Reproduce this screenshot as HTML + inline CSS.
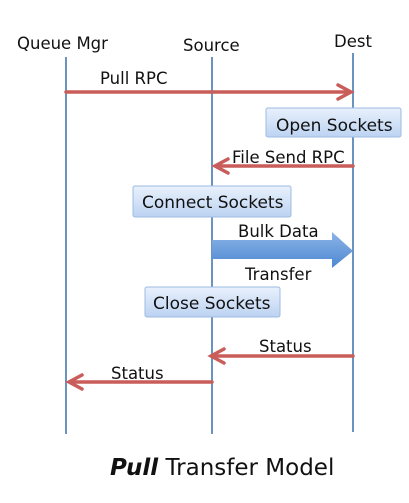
<!DOCTYPE html>
<html><head><style>
body{margin:0;background:#fff;}
svg text{font-family:"DejaVu Sans","Liberation Sans",sans-serif;fill:#111;}
</style></head><body>
<svg width="409" height="498" viewBox="0 0 409 498" xmlns="http://www.w3.org/2000/svg">
<defs>
<linearGradient id="bx" x1="0" y1="0" x2="0" y2="1"><stop offset="0" stop-color="#e9f1fc"/><stop offset="1" stop-color="#bcd3f2"/></linearGradient>
<linearGradient id="ba" x1="0" y1="0" x2="0" y2="1"><stop offset="0" stop-color="#8cb4e6"/><stop offset="1" stop-color="#4d88d2"/></linearGradient>
</defs>
<text x="17" y="49" font-size="16.5">Queue Mgr</text>
<text x="183" y="51" font-size="16.5">Source</text>
<text x="334" y="47" font-size="16.5">Dest</text>
<g stroke="#6b93bf" stroke-width="2">
<line x1="66" y1="57" x2="66" y2="434"/>
<line x1="212" y1="57" x2="212" y2="434"/>
<line x1="353" y1="53" x2="353" y2="432"/>
</g>
<g stroke="#c95d5a" stroke-width="3.5" fill="none" stroke-linecap="round">
<line x1="66" y1="92" x2="350" y2="92"/><polyline points="338,85 351,92 338,99"/>
<line x1="353" y1="166" x2="216" y2="166"/><polyline points="228,159 215,166 228,173"/>
<line x1="353" y1="356" x2="212" y2="356"/><polyline points="224,349 211,356 224,363"/>
<line x1="212" y1="382" x2="70" y2="382"/><polyline points="82,375 69,382 82,389"/>
</g>
<text x="100" y="84" font-size="16.5">Pull RPC</text>
<text x="232" y="163" font-size="16.5">File Send RPC</text>
<text x="259" y="352" font-size="16.5">Status</text>
<text x="111" y="379" font-size="16.5">Status</text>
<rect x="266" y="108" width="135" height="29" rx="2" fill="url(#bx)" stroke="#9dbbe2"/>
<text x="276" y="131" font-size="17">Open Sockets</text>
<rect x="133" y="186" width="158" height="31" rx="2" fill="url(#bx)" stroke="#9dbbe2"/>
<text x="142" y="208" font-size="17">Connect Sockets</text>
<rect x="145" y="287" width="135" height="30" rx="2" fill="url(#bx)" stroke="#9dbbe2"/>
<text x="153" y="309" font-size="17">Close Sockets</text>
<polygon points="212,240 332,240 332,232 353,251 332,268 332,259 212,259" fill="url(#ba)"/>
<text x="238" y="237" font-size="16.5">Bulk Data</text>
<text x="245" y="280" font-size="16.5">Transfer</text>
<text x="110" y="475" font-size="23"><tspan font-weight="bold" font-style="italic">Pull</tspan> Transfer Model</text>
</svg>
</body></html>
